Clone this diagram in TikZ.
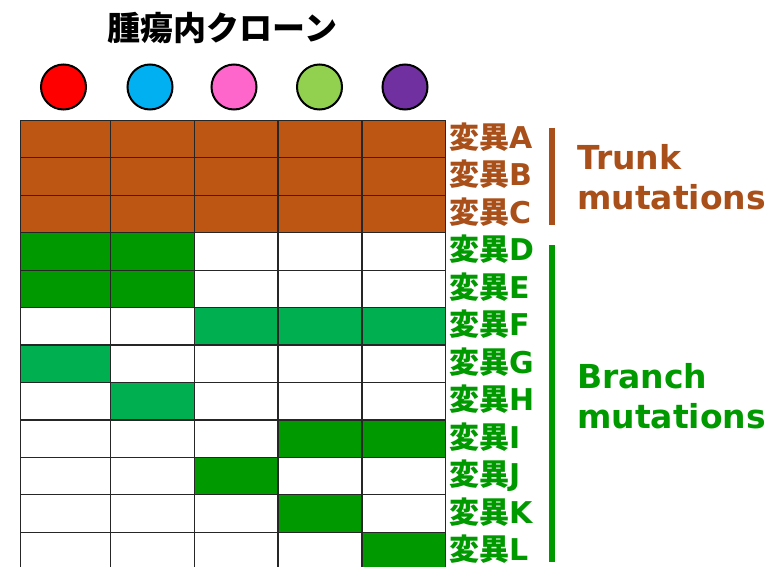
\documentclass[tikz,border=0pt]{standalone}
\usepackage{fontspec}
\newfontfamily\cjk{Noto Sans CJK JP}
\newfontfamily\dvs{DejaVu Sans}
\definecolor{trunkfill}{HTML}{BD5612}
\definecolor{trunktext}{HTML}{A9501A}
\definecolor{dgreen}{HTML}{009900}
\definecolor{mgreen}{HTML}{00B050}
\definecolor{cred}{HTML}{FF0000}
\definecolor{ccyan}{HTML}{00B0F0}
\definecolor{cpink}{HTML}{FF66CC}
\definecolor{clime}{HTML}{92D050}
\definecolor{cpurple}{HTML}{7030A0}
\tikzset{
  clone/.style={circle, draw=black, line width=2pt, minimum size=45pt, inner sep=0pt},
  gridline/.style={draw=black!85, line width=1.2pt},
  lab/.style={anchor=base west, inner sep=0pt, text depth=0pt, font=\cjk\bfseries\fontsize{30}{30}\selectfont},
  grp/.style={anchor=base west, inner sep=0pt, font=\dvs\bfseries\fontsize{33}{33}\selectfont},
  bar/.style={line width=5.5pt}
}
\begin{document}
\begin{tikzpicture}[x=1pt,y=-1pt]
\useasboundingbox (0,0) rectangle (769,567);
\node[anchor=base, inner sep=0pt, font=\cjk\bfseries\fontsize{33}{33}\selectfont] (title) at (222.5,41) {腫瘍内クローン};
\node[clone, fill=cred] (c1) at (63.5,87) {};
\node[clone, fill=ccyan] (c2) at (150,87) {};
\node[clone, fill=cpink] (c3) at (234,87) {};
\node[clone, fill=clime] (c4) at (319.5,87) {};
\node[clone, fill=cpurple] (c5) at (405,87) {};
\begin{scope}
\clip (0,0) rectangle (769,567);
\fill[trunkfill] (20.5,120.3) rectangle (445.5,232.65);
\fill[dgreen] (20.5,232.65) rectangle (194.5,307.55);
\fill[mgreen] (194.5,307.55) rectangle (445.5,345);
\fill[mgreen] (20.5,345) rectangle (110.5,382.45);
\fill[mgreen] (110.5,382.45) rectangle (194.5,419.9);
\fill[dgreen] (278,419.9) rectangle (445.5,457.35);
\fill[dgreen] (194.5,457.35) rectangle (278,494.8);
\fill[dgreen] (278,494.8) rectangle (362,532.25);
\fill[dgreen] (362,532.25) rectangle (445.5,569.7);
\foreach \x in {20.5,110.5,194.5,278,362,445.5}
  \draw[gridline] (\x,120.3) -- (\x,569.7);
\foreach \k in {0,...,12}
  \draw[gridline] (20.5,120.3+\k*37.45) -- (445.5,120.3+\k*37.45);
\end{scope}
\foreach \l [count=\i from 0] in {A,B,C}
  \node[lab, text=trunktext] (m\l) at (449,120.3+\i*37.45+18.7+9.5) {変異{\dvs\bfseries\l}};
\foreach \l [count=\i from 3] in {D,E,F,G,H,I,J,K,L}
  \node[lab, text=dgreen] (m\l) at (449,120.3+\i*37.45+18.7+9.5) {変異{\dvs\bfseries\l}};
\coordinate (t1) at (552,128);
\coordinate (t2) at (552,225);
\coordinate (b1) at (552,245);
\coordinate (b2) at (552,562);
\draw[bar, trunktext] (t1) -- (t2);
\draw[bar, dgreen] (b1) -- (b2);
\node[grp, text=trunktext] (tr1) at (577,170) {Trunk};
\node[grp, text=trunktext] (tr2) at (577,210) {mutations};
\node[grp, text=dgreen] (br1) at (577,388) {Branch};
\node[grp, text=dgreen] (br2) at (577,428) {mutations};
\end{tikzpicture}
\end{document}
